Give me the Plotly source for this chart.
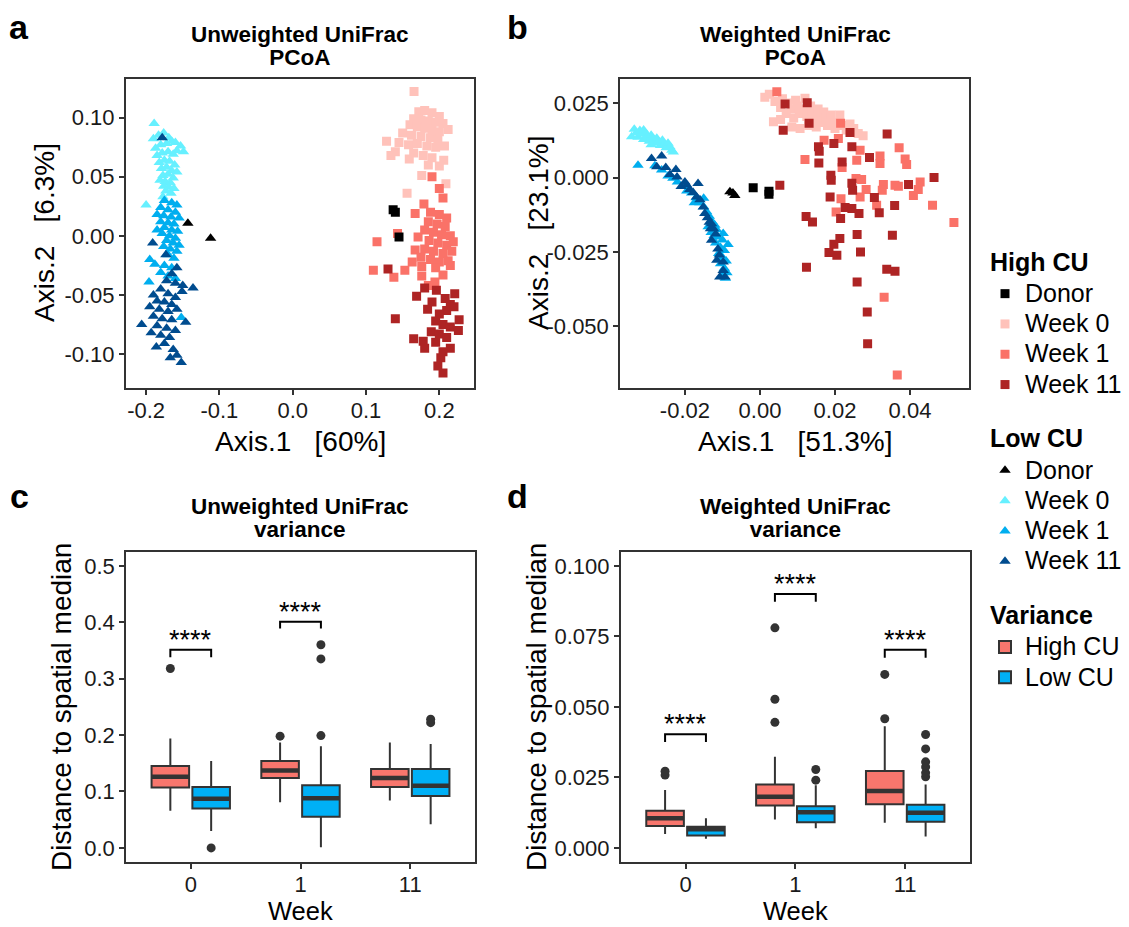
import plotly.graph_objects as go

W, H = 1129, 927
OFF = 8                      # the page body margin shifts the figure by this much
FW, FH = W - OFF, H - OFF
FONT = "Liberation Sans, Arial, sans-serif"

# ---------------- Panel a : Unweighted UniFrac PCoA (Axis.1, Axis.2) ----------------
a_high_donor = [(0.137, 0.022), (0.140, 0.020), (0.145, -0.001)]
a_high_w0 = [(0.1655, 0.122), (0.172, 0.105), (0.180, 0.106), (0.190, 0.104), (0.200, 0.101),
             (0.165, 0.099), (0.175, 0.098), (0.185, 0.097), (0.195, 0.096), (0.205, 0.095),
             (0.160, 0.094), (0.170, 0.092), (0.180, 0.091), (0.190, 0.090), (0.200, 0.088),
             (0.212, 0.090), (0.150, 0.087), (0.162, 0.085), (0.175, 0.084), (0.188, 0.083),
             (0.198, 0.081), (0.128, 0.080), (0.145, 0.079), (0.158, 0.077), (0.170, 0.078),
             (0.183, 0.076), (0.195, 0.075), (0.207, 0.076), (0.140, 0.071), (0.134, 0.068),
             (0.165, 0.070), (0.178, 0.068), (0.190, 0.066), (0.206, 0.064), (0.159, 0.065),
             (0.185, 0.060), (0.200, 0.059), (0.176, 0.051), (0.209, 0.044), (0.156, 0.036)]
a_high_w1 = [(0.190, 0.050), (0.205, 0.032), (0.179, 0.027), (0.167, 0.019), (0.188, 0.020),
             (0.200, 0.018), (0.210, 0.015), (0.185, 0.012), (0.197, 0.010), (0.208, 0.008),
             (0.180, 0.005), (0.192, 0.003), (0.203, 0.001), (0.215, 0.000), (0.171, -0.001),
             (0.186, -0.004), (0.198, -0.006), (0.210, -0.008), (0.219, -0.005), (0.115, -0.005),
             (0.167, -0.012), (0.180, -0.011), (0.192, -0.013), (0.205, -0.015), (0.217, -0.013),
             (0.175, -0.018), (0.188, -0.020), (0.200, -0.022), (0.212, -0.021), (0.163, -0.022),
             (0.110, -0.029), (0.153, -0.029), (0.176, -0.026), (0.195, -0.027), (0.215, -0.025),
             (0.138, -0.035), (0.176, -0.034), (0.194, -0.039), (0.205, -0.033), (0.185, -0.042),
             (0.143, 0.002), (0.200, 0.040)]
a_high_w11 = [(0.130, -0.028), (0.169, -0.051), (0.180, -0.044), (0.196, -0.046), (0.221, -0.049),
              (0.208, -0.053), (0.190, -0.056), (0.215, -0.058), (0.184, -0.062), (0.140, -0.070),
              (0.210, -0.063), (0.200, -0.066), (0.227, -0.071), (0.195, -0.072), (0.205, -0.075),
              (0.215, -0.077), (0.189, -0.081), (0.200, -0.083), (0.165, -0.087), (0.178, -0.089),
              (0.226, -0.080), (0.210, -0.086), (0.195, -0.090), (0.180, -0.095), (0.215, -0.095),
              (0.205, -0.098), (0.202, -0.103), (0.198, -0.110), (0.205, -0.116), (0.220, -0.060)]
a_low_donor = [(-0.143, 0.0106), (-0.112, -0.002)]
a_low_w0 = [(-0.189, 0.095), (-0.190, 0.082), (-0.183, 0.085), (-0.176, 0.087), (-0.169, 0.083),
            (-0.160, 0.079), (-0.153, 0.076), (-0.187, 0.074), (-0.180, 0.077), (-0.172, 0.078),
            (-0.165, 0.080), (-0.158, 0.072), (-0.185, 0.068), (-0.178, 0.070), (-0.170, 0.071),
            (-0.163, 0.069), (-0.149, 0.071), (-0.182, 0.062), (-0.175, 0.064), (-0.168, 0.063),
            (-0.161, 0.060), (-0.179, 0.057), (-0.172, 0.058), (-0.165, 0.055), (-0.158, 0.054),
            (-0.177, 0.051), (-0.170, 0.052), (-0.163, 0.049), (-0.181, 0.047), (-0.174, 0.046),
            (-0.167, 0.045), (-0.176, 0.042), (-0.169, 0.041), (-0.162, 0.040), (-0.173, 0.038),
            (-0.166, 0.036), (-0.177, 0.033), (-0.200, 0.026)]
a_low_w1 = [(-0.175, 0.030), (-0.165, 0.028), (-0.158, 0.026), (-0.180, 0.024), (-0.170, 0.022),
            (-0.160, 0.020), (-0.185, 0.018), (-0.176, 0.017), (-0.166, 0.016), (-0.155, 0.015),
            (-0.180, 0.012), (-0.170, 0.011), (-0.162, 0.010), (-0.175, 0.007), (-0.165, 0.005),
            (-0.157, 0.004), (-0.178, 0.002), (-0.168, 0.000), (-0.160, -0.002), (-0.172, -0.004),
            (-0.163, -0.006), (-0.155, -0.008), (-0.176, -0.009), (-0.167, -0.011), (-0.158, -0.013),
            (-0.170, -0.016), (-0.162, -0.019), (-0.195, -0.020), (-0.188, -0.024), (-0.175, -0.025),
            (-0.165, -0.027), (-0.180, -0.031), (-0.170, -0.034), (-0.196, -0.039), (-0.160, -0.036),
            (-0.152, -0.069), (-0.185, 0.005)]
a_low_w11 = [(-0.178, 0.083), (-0.191, -0.006), (-0.173, -0.016), (-0.158, -0.027), (-0.165, -0.032),
             (-0.172, -0.038), (-0.160, -0.040), (-0.150, -0.042), (-0.136, -0.044), (-0.151, -0.047),
             (-0.180, -0.045), (-0.190, -0.050), (-0.170, -0.049), (-0.160, -0.052), (-0.185, -0.055),
             (-0.175, -0.056), (-0.165, -0.058), (-0.195, -0.060), (-0.182, -0.062), (-0.170, -0.064),
             (-0.158, -0.062), (-0.190, -0.068), (-0.178, -0.070), (-0.165, -0.071), (-0.206, -0.075),
             (-0.146, -0.073), (-0.185, -0.076), (-0.172, -0.078), (-0.160, -0.080), (-0.193, -0.082),
             (-0.180, -0.084), (-0.168, -0.086), (-0.175, -0.091), (-0.163, -0.096), (-0.186, -0.094),
             (-0.167, -0.103), (-0.152, -0.107), (-0.158, -0.101)]

# ---------------- Panel b : Weighted UniFrac PCoA ----------------
b_high_donor = [(-0.0018, -0.0034), (0.0024, -0.0056), (0.0024, -0.0046)]
b_high_w0 = [(0.0013, 0.0270), (0.0025, 0.0280), (0.0036, 0.0187), (0.0040, 0.0255), (0.0055, 0.0235),
             (0.0060, 0.0265), (0.0070, 0.0215), (0.0075, 0.0250), (0.0085, 0.0230), (0.0090, 0.0200),
             (0.0095, 0.0260), (0.0100, 0.0240), (0.0105, 0.0215), (0.0107, 0.0165), (0.0120, 0.0266),
             (0.0120, 0.0230), (0.0125, 0.0205), (0.0130, 0.0175), (0.0135, 0.0240), (0.0140, 0.0220),
             (0.0145, 0.0195), (0.0150, 0.0170), (0.0155, 0.0230), (0.0160, 0.0210), (0.0165, 0.0185),
             (0.0170, 0.0220), (0.0175, 0.0200), (0.0180, 0.0175), (0.0190, 0.0210), (0.0195, 0.0185),
             (0.0200, 0.0165), (0.0213, 0.0210), (0.0220, 0.0175), (0.0230, 0.0160), (0.0240, 0.0180),
             (0.0250, 0.0165), (0.0262, 0.0148), (0.0275, 0.0140), (0.0085, 0.0170), (0.0055, 0.0195)]
b_high_w1 = [(0.0045, 0.0288), (0.0215, 0.0182), (0.0171, 0.0125), (0.0209, 0.0131), (0.0371, 0.0100),
             (0.0120, 0.0061), (0.0219, 0.0034), (0.0258, 0.0058), (0.0267, 0.0092), (0.0320, 0.0072),
             (0.0320, 0.0047), (0.0387, 0.0062), (0.0391, 0.0044), (0.0256, -0.0003), (0.0271, -0.0007),
             (0.0283, -0.0040), (0.0267, -0.0065), (0.0216, -0.0071), (0.0329, -0.0023), (0.0326, -0.0043),
             (0.0360, -0.0026), (0.0369, -0.0029), (0.0427, -0.0015), (0.0422, -0.0040), (0.0409, -0.0060),
             (0.0311, -0.0093), (0.0203, -0.0116), (0.0460, -0.0093), (0.0517, -0.0151), (0.0331, -0.0402),
             (0.0366, -0.0663)]
b_high_w11 = [(0.0067, 0.0247), (0.0126, 0.0251), (0.0062, 0.0159), (0.0131, 0.0182), (0.0240, 0.0151),
              (0.0339, 0.0146), (0.0156, 0.0103), (0.0158, 0.0088), (0.0197, 0.0114), (0.0245, 0.0103),
              (0.0157, 0.0049), (0.0219, 0.0052), (0.0292, 0.0067), (0.0053, -0.0026), (0.0189, 0.0008),
              (0.0190, -0.0009), (0.0245, -0.0019), (0.0247, -0.0043), (0.0396, -0.0023), (0.0464, 0.0000),
              (0.0187, -0.0065), (0.0305, -0.0067), (0.0227, -0.0101), (0.0245, -0.0104), (0.0264, -0.0121),
              (0.0215, -0.0138), (0.0318, -0.0118), (0.0359, -0.0094), (0.0123, -0.0131), (0.0140, -0.0149),
              (0.0259, -0.0191), (0.0353, -0.0194), (0.0213, -0.0205), (0.0197, -0.0224), (0.0184, -0.0252),
              (0.0205, -0.0261), (0.0268, -0.0250), (0.0124, -0.0301), (0.0338, -0.0308), (0.0360, -0.0315),
              (0.0259, -0.0351), (0.0286, -0.0452), (0.0287, -0.0558)]
b_low_donor = [(-0.0080, -0.0048), (-0.0067, -0.0060), (-0.0072, -0.0052)]
b_low_w0 = [(-0.0342, 0.0137), (-0.0335, 0.0162), (-0.0330, 0.0150), (-0.0325, 0.0135), (-0.0320, 0.0158),
            (-0.0315, 0.0145), (-0.0310, 0.0128), (-0.0305, 0.0150), (-0.0300, 0.0138), (-0.0295, 0.0122),
            (-0.0290, 0.0142), (-0.0285, 0.0130), (-0.0280, 0.0115), (-0.0275, 0.0132), (-0.0270, 0.0120),
            (-0.0265, 0.0108), (-0.0260, 0.0125), (-0.0255, 0.0112), (-0.0250, 0.0100), (-0.0245, 0.0115),
            (-0.0240, 0.0103), (-0.0235, 0.0092), (-0.0231, 0.0086), (-0.0310, 0.0160), (-0.0290, 0.0110)]
b_low_w1 = [(-0.0325, 0.0041), (-0.0280, 0.0040), (-0.0262, 0.0025), (-0.0245, 0.0005), (-0.0232, -0.0002),
            (-0.0220, -0.0015), (-0.0205, -0.0030), (-0.0195, -0.0045), (-0.0182, -0.0052), (-0.0170, -0.0068),
            (-0.0160, -0.0085), (-0.0150, -0.0098), (-0.0142, -0.0115), (-0.0135, -0.0130), (-0.0128, -0.0148),
            (-0.0120, -0.0160), (-0.0115, -0.0175), (-0.0130, -0.0185), (-0.0098, -0.0188), (-0.0112, -0.0200),
            (-0.0100, -0.0210), (-0.0118, -0.0220), (-0.0105, -0.0235), (-0.0095, -0.0245), (-0.0110, -0.0255),
            (-0.0100, -0.0268), (-0.0090, -0.0280), (-0.0105, -0.0290), (-0.0095, -0.0305), (-0.0088, -0.0320),
            (-0.0100, -0.0330), (-0.0092, -0.0338), (-0.0150, -0.0070), (-0.0175, -0.0085), (-0.0138, -0.0165),
            (-0.0122, -0.0195), (-0.0085, -0.0225)]
b_low_w11 = [(-0.0289, 0.0064), (-0.0262, 0.0072), (-0.0275, 0.0036), (-0.0251, 0.0034), (-0.0224, 0.0027),
             (-0.0221, 0.0002), (-0.0200, -0.0015), (-0.0187, -0.0040), (-0.0165, -0.0020), (-0.0169, -0.0065),
             (-0.0151, -0.0099), (-0.0147, -0.0121), (-0.0129, -0.0155), (-0.0124, -0.0172), (-0.0129, -0.0211),
             (-0.0115, -0.0278), (-0.0098, -0.0284), (-0.0098, -0.0312), (-0.0107, -0.0334), (-0.0093, -0.0334),
             (-0.0132, -0.0172), (-0.0240, 0.0010), (-0.0210, -0.0030), (-0.0195, -0.0025), (-0.0178, -0.0050),
             (-0.0160, -0.0075), (-0.0140, -0.0135), (-0.0135, -0.0150), (-0.0118, -0.0190), (-0.0112, -0.0240),
             (-0.0108, -0.0260)]

# ---------------- Panels c, d : distance to spatial median ----------------
weeks = ["0", "1", "11"]
c_high_stats = dict(q1=[0.107, 0.124, 0.108], median=[0.126, 0.137, 0.124], q3=[0.145, 0.154, 0.140],
                    lowerfence=[0.066, 0.081, 0.084], upperfence=[0.194, 0.187, 0.187])
c_low_stats = dict(q1=[0.070, 0.055, 0.092], median=[0.087, 0.088, 0.110], q3=[0.108, 0.111, 0.140],
                   lowerfence=[0.030, 0.001, 0.042], upperfence=[0.154, 0.180, 0.184])
c_high_out = [[0.318], [0.198], []]
c_low_out = [[0.000], [0.199, 0.335, 0.360], [0.222, 0.228]]
c_brackets = [(0, 0.351, 0.338), (1, 0.401, 0.389)]   # (week index, top, tip)

d_high_stats = dict(q1=[0.0078, 0.0150, 0.0155], median=[0.0105, 0.0181, 0.0202], q3=[0.0132, 0.0225, 0.0273],
                    lowerfence=[0.0049, 0.0101, 0.0089], upperfence=[0.0205, 0.0323, 0.0431])
d_low_stats = dict(q1=[0.0044, 0.0091, 0.0093], median=[0.0066, 0.0126, 0.0125], q3=[0.0075, 0.0148, 0.0153],
                   lowerfence=[0.0032, 0.0070, 0.0040], upperfence=[0.0105, 0.0222, 0.0225])
d_high_out = [[0.0258, 0.0272], [0.0445, 0.0527, 0.0780], [0.0458, 0.0615]]
d_low_out = [[], [0.0240, 0.0278], [0.0252, 0.0266, 0.0287, 0.0305, 0.0351, 0.0402]]
d_brackets = [(0, 0.0403, 0.0375), (1, 0.0900, 0.0873), (2, 0.0702, 0.0674)]

HIGH_COL = {"Donor": "#000000", "Week 0": "#FFC2BA", "Week 1": "#FA7268", "Week 11": "#AE2424"}
LOW_COL = {"Donor": "#000000", "Week 0": "#66F0FF", "Week 1": "#00AEEF", "Week 11": "#004C8F"}
BOX_COL = {"High CU": "#F8766D", "Low CU": "#00B0F6"}
EDGE = "#333333"

BOXGAP, BOXGROUPGAP = 0.256, 0.08
DODGE = (1 - BOXGAP) / 4
LEG_TEXT_PX = 25


def sized(label, px):
    return f'<span style="font-size:{px}px">{label}</span>'


fig = go.Figure()

def add_points(pts, color, symbol, size, name, group, gtitle, rank, xa, ya, show):
    fig.add_trace(go.Scatter(
        x=[p[0] for p in pts], y=[p[1] for p in pts], mode="markers", name=sized(name, LEG_TEXT_PX),
        marker=dict(color=color, symbol=symbol, size=size, line=dict(width=0)),
        legendgroup=group, legendgrouptitle=dict(text=gtitle) if gtitle else None,
        legendrank=rank, showlegend=show, xaxis=xa, yaxis=ya, hoverinfo="skip"))

panels = [
    ("x", "y", True, a_high_donor, a_high_w0, a_high_w1, a_high_w11, a_low_donor, a_low_w0, a_low_w1, a_low_w11),
    ("x2", "y2", False, b_high_donor, b_high_w0, b_high_w1, b_high_w11, b_low_donor, b_low_w0, b_low_w1, b_low_w11),
]
for xa, ya, show, hd, h0, h1, h11, ld, l0, l1, l11 in panels:
    add_points(h0, HIGH_COL["Week 0"], "square", 9, "Week 0", "high", None, 2, xa, ya, show)
    add_points(h1, HIGH_COL["Week 1"], "square", 9, "Week 1", "high", None, 3, xa, ya, show)
    add_points(h11, HIGH_COL["Week 11"], "square", 9, "Week 11", "high", None, 4, xa, ya, show)
    add_points(l0, LOW_COL["Week 0"], "triangle-up", 10, "Week 0", "low", None, 6, xa, ya, show)
    add_points(l1, LOW_COL["Week 1"], "triangle-up", 10, "Week 1", "low", None, 7, xa, ya, show)
    add_points(l11, LOW_COL["Week 11"], "triangle-up", 10, "Week 11", "low", None, 8, xa, ya, show)
    add_points(hd, HIGH_COL["Donor"], "square", 9, "Donor", "high", "<b>High CU</b>", 1, xa, ya, show)
    add_points(ld, LOW_COL["Donor"], "triangle-up", 10, "Donor", "low", "<b>Low CU</b>", 5, xa, ya, show)

wk_idx = list(range(len(weeks)))
box_sets = [
    ("x3", "y3", True, c_high_stats, c_low_stats, c_high_out, c_low_out),
    ("x4", "y4", False, d_high_stats, d_low_stats, d_high_out, d_low_out),
]
for xa, ya, show, hs, ls, ho, lo in box_sets:
    for name, st, og, rank, outs, sgn in [("High CU", hs, "high", 9, ho, -1), ("Low CU", ls, "low", 10, lo, 1)]:
        fig.add_trace(go.Box(
            x=wk_idx, q1=st["q1"], median=st["median"], q3=st["q3"],
            lowerfence=st["lowerfence"], upperfence=st["upperfence"],
            name=sized(name, LEG_TEXT_PX), fillcolor=BOX_COL[name], line=dict(color=EDGE, width=2),
            whiskerwidth=0, offsetgroup=og, boxpoints=False, xaxis=xa, yaxis=ya,
            legendgroup="var", legendgrouptitle=dict(text="<b>Variance</b>") if name == "High CU" else None,
            legendrank=rank, showlegend=show, hoverinfo="skip"))
        # thicker median bar (ggplot style)
        fig.add_trace(go.Box(
            x=wk_idx, q1=st["median"], median=st["median"], q3=st["median"],
            lowerfence=st["median"], upperfence=st["median"],
            fillcolor="rgba(0,0,0,0)", line=dict(color=EDGE, width=4.5),
            whiskerwidth=0, offsetgroup=og, boxpoints=False, xaxis=xa, yaxis=ya,
            showlegend=False, hoverinfo="skip"))
        ox, oy = [], []
        for i, vals in zip(wk_idx, outs):
            for v in vals:
                ox.append(i + sgn * DODGE)
                oy.append(v)
        fig.add_trace(go.Scatter(x=ox, y=oy, mode="markers", marker=dict(color=EDGE, size=9),
                                 xaxis=xa, yaxis=ya, showlegend=False, hoverinfo="skip"))

annotations = []
for xa, ya, brs in [("x3", "y3", c_brackets), ("x4", "y4", d_brackets)]:
    for i, top, tip in brs:
        fig.add_trace(go.Scatter(
            x=[i - DODGE, i - DODGE, i + DODGE, i + DODGE], y=[tip, top, top, tip],
            mode="lines", line=dict(color="black", width=2), xaxis=xa, yaxis=ya,
            showlegend=False, hoverinfo="skip"))
        annotations.append(dict(x=i, y=top, xref=xa, yref=ya, text="****", showarrow=False,
                                yanchor="bottom", yshift=-7,
                                font=dict(family=FONT, size=27, color="black")))

def px_x(p):
    return (p - OFF) / FW

def px_y(p):
    return 1 - (p - OFF) / FH

def ann(text, xp, yp, size, bold=False, angle=0):
    annotations.append(dict(
        x=px_x(xp), y=px_y(yp), xref="paper", yref="paper", showarrow=False,
        text=f"<b>{text}</b>" if bold else text, textangle=angle,
        xanchor="center", yanchor="middle",
        font=dict(family=FONT, size=size, color="black")))

def title2(line1, line2, xp, yp):
    # two bold lines, tight line spacing (spacing set by the small base size)
    t = f"<b>{sized(line1, 22.5)}</b><br><b>{sized(line2, 22.5)}</b>"
    annotations.append(dict(
        x=px_x(xp), y=px_y(yp), xref="paper", yref="paper", showarrow=False, text=t,
        xanchor="center", yanchor="middle", font=dict(family=FONT, size=17.5, color="black")))

# panel letters
ann("a", 19, 27, 34, True)
ann("b", 517, 27, 34, True)
ann("c", 19, 496, 34, True)
ann("d", 517, 496, 34, True)
# panel titles
title2("Unweighted UniFrac", "PCoA", 300, 46)
title2("Weighted UniFrac", "PCoA", 795, 46)
title2("Unweighted UniFrac", "variance", 300, 518)
title2("Weighted UniFrac", "variance", 795, 518)
# axis titles
ann("Axis.1   [60%]", 300, 441, 28)
ann("Axis.2   [6.3%]", 44, 233, 28, angle=-90)
ann("Axis.1   [51.3%]", 795, 441, 28)
ann("Axis.2   [23.1%]", 538, 233, 28, angle=-90)
ann("Week", 300, 911, 25.5)
ann("Distance to spatial median", 61, 707, 28, angle=-90)
ann("Week", 795, 911, 25.5)
ann("Distance to spatial median", 536, 707, 28, angle=-90)

axis_common = dict(showline=True, mirror=True, linecolor=EDGE, linewidth=1.5, ticks="outside",
                   ticklen=5, tickwidth=1.5, tickcolor=EDGE, showgrid=False, zeroline=False,
                   tickfont=dict(family=FONT, size=22, color="#1a1a1a"))
xaxis_common = dict(axis_common, ticklabelstandoff=-3)

def dom_x(l, r):
    return [px_x(l), px_x(r)]

def dom_y(t, b):
    return [px_y(b), px_y(t)]

fig.update_layout(
    width=FW, height=FH, margin=dict(l=0, r=0, t=0, b=0),
    paper_bgcolor="white", plot_bgcolor="white",
    boxmode="group", boxgap=BOXGAP, boxgroupgap=BOXGROUPGAP,
    font=dict(family=FONT, color="black"),
    xaxis=dict(domain=dom_x(125.7, 474.3), anchor="y", range=[-0.2278, 0.2477],
               tickvals=[-0.2, -0.1, 0, 0.1, 0.2], ticktext=["-0.2", "-0.1", "0.0", "0.1", "0.2"], **xaxis_common),
    yaxis=dict(domain=dom_y(79, 388), anchor="x", range=[-0.1286, 0.1326],
               tickvals=[-0.1, -0.05, 0, 0.05, 0.1], ticktext=["-0.10", "-0.05", "0.00", "0.05", "0.10"], **axis_common),
    xaxis2=dict(domain=dom_x(620, 969.3), anchor="y2", range=[-0.0373, 0.0558],
                tickvals=[-0.02, 0, 0.02, 0.04], ticktext=["-0.02", "0.00", "0.02", "0.04"], **xaxis_common),
    yaxis2=dict(domain=dom_y(79, 388), anchor="x2", range=[-0.0707, 0.0331],
                tickvals=[-0.05, -0.025, 0, 0.025], ticktext=["-0.050", "-0.025", "0.000", "0.025"], **axis_common),
    xaxis3=dict(domain=dom_x(126, 475), anchor="y3", range=[-0.59, 2.59],
                tickvals=wk_idx, ticktext=weeks, **xaxis_common),
    yaxis3=dict(domain=dom_y(551.7, 862), anchor="x3", range=[-0.025, 0.525],
                tickvals=[0, 0.1, 0.2, 0.3, 0.4, 0.5], ticktext=["0.0", "0.1", "0.2", "0.3", "0.4", "0.5"], **axis_common),
    xaxis4=dict(domain=dom_x(620.7, 970), anchor="y4", range=[-0.59, 2.59],
                tickvals=wk_idx, ticktext=weeks, **xaxis_common),
    yaxis4=dict(domain=dom_y(551.7, 862), anchor="x4", range=[-0.005, 0.105],
                tickvals=[0, 0.025, 0.05, 0.075, 0.1], ticktext=["0.000", "0.025", "0.050", "0.075", "0.100"], **axis_common),
    legend=dict(x=px_x(985), y=px_y(238), xanchor="left", yanchor="top",
                font=dict(family=FONT, size=21, color="black"),
                grouptitlefont=dict(family=FONT, size=25, color="black"),
                tracegroupgap=20, traceorder="grouped", bgcolor="rgba(0,0,0,0)"),
    annotations=annotations,
)

fig.write_html("out.html")
